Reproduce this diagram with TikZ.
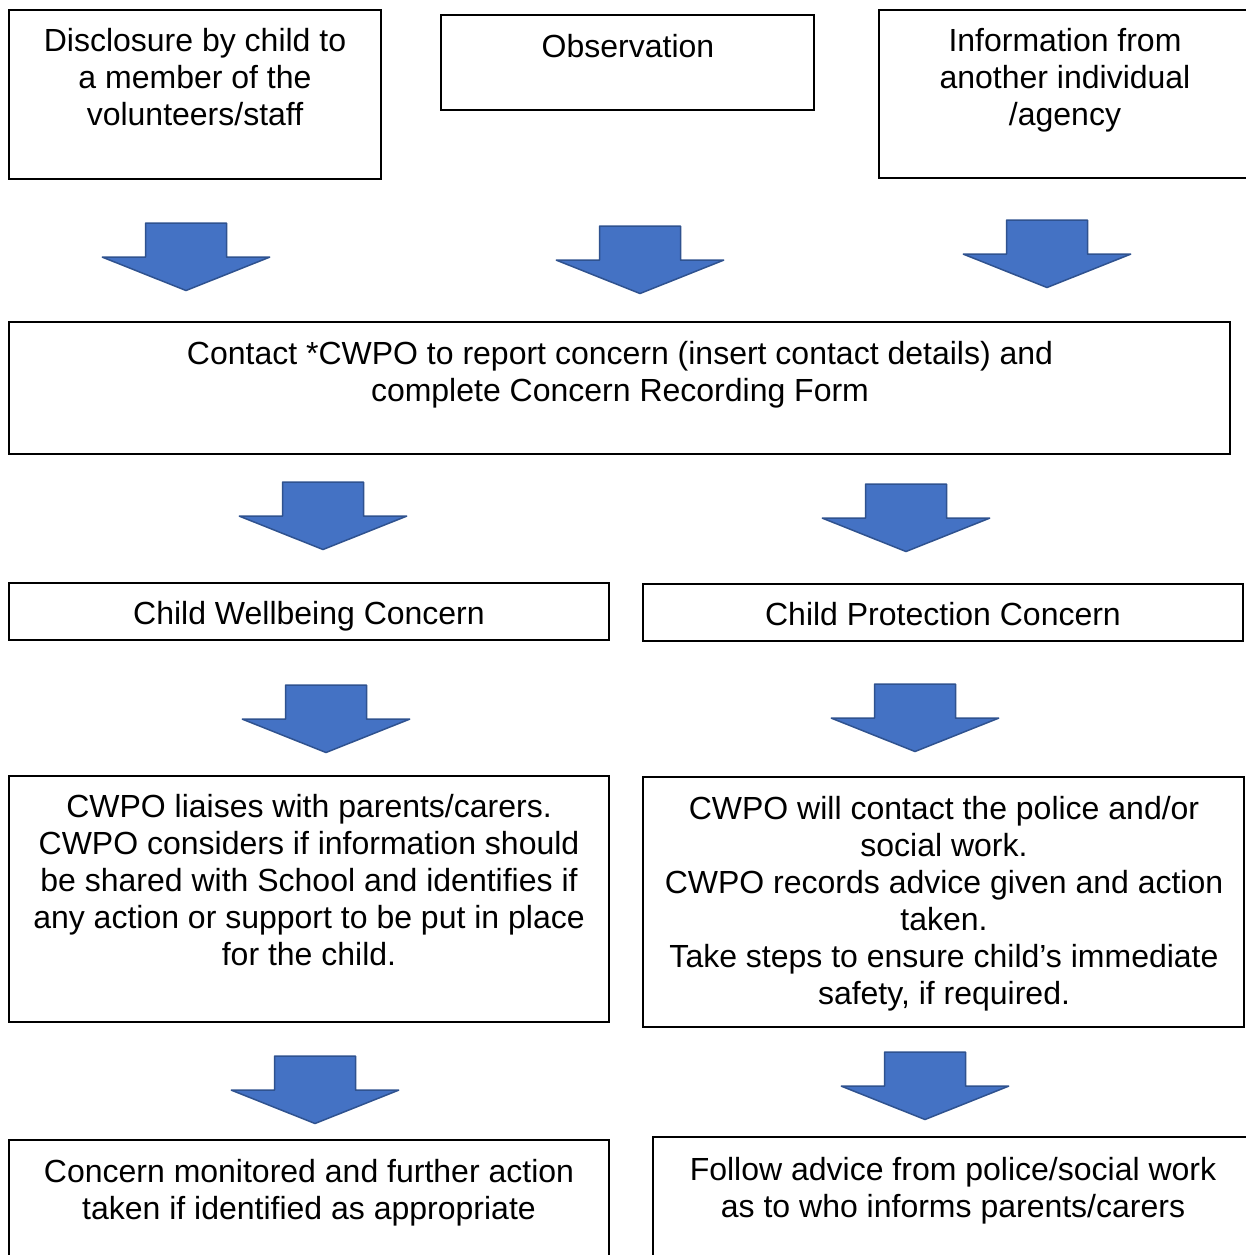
\documentclass[tikz,border=0pt]{standalone}
\usepackage{fontspec}
\setmainfont{Liberation Sans}
\definecolor{arrowfill}{HTML}{4472C4}
\definecolor{arrowedge}{HTML}{2F528F}
\begin{document}
\begin{tikzpicture}[x=0.5pt,y=-0.5pt,
  box/.style={draw=black,line width=0.75pt,inner sep=0pt},
  txt/.style={anchor=north,inner sep=0pt,align=center,font=\fontsize{16pt}{18.5pt}\selectfont},
  downarrow/.pic={\fill[arrowfill,draw=arrowedge,line width=0.75pt,line join=bevel]
     (-40.5,0) -- (40.5,0) -- (40.5,34) -- (84,34) -- (0,67.5) -- (-84,34) -- (-40.5,34) -- cycle;}]
\useasboundingbox (0,0) rectangle (1246,1255);
\clip (0,0) rectangle (1246,1255);
\fill[white] (0,0) rectangle (1246,1255);
% boxes
\path[box] (9,10) rectangle (381,179) node[pos=0.5,draw=none] (b1) {};
\path[box] (441,15) rectangle (814,110) node[pos=0.5,draw=none] (b2) {};
\path[box] (879,10) rectangle (1252,178) node[pos=0.5,draw=none] (b3) {};
\path[box] (9,322) rectangle (1230,454) node[pos=0.5,draw=none] (b4) {};
\path[box] (9,583) rectangle (609,640) node[pos=0.5,draw=none] (b5) {};
\path[box] (643,584) rectangle (1243,641) node[pos=0.5,draw=none] (b6) {};
\path[box] (9,776) rectangle (609,1022) node[pos=0.5,draw=none] (b7) {};
\path[box] (643,777) rectangle (1244,1027) node[pos=0.5,draw=none] (b8) {};
\path[box] (9,1140) rectangle (609,1262) node[pos=0.5,draw=none] (b9) {};
\path[box] (653,1137) rectangle (1256,1262) node[pos=0.5,draw=none] (b10) {};
% texts
\node[txt] (t1) at (195,25) {\strut Disclosure by child to\\a member of the\\volunteers/staff};
\node[txt] (t2) at (628,31) {\strut Observation};
\node[txt] (t3) at (1065,25) {\strut Information from\\another individual\\/agency};
\node[txt] (t4) at (620,338) {\strut Contact *CWPO to report concern (insert contact details) and\\complete Concern Recording Form};
\node[txt] (t5) at (309,598) {\strut Child Wellbeing Concern};
\node[txt] (t6) at (943,599) {\strut Child Protection Concern};
\node[txt] (t7) at (309,791) {\strut CWPO liaises with parents/carers.\\CWPO considers if information should\\be shared with School and identifies if\\any action or support to be put in place\\for the child.};
\node[txt] (t8) at (944,793) {\strut CWPO will contact the police and/or\\social work.\\CWPO records advice given and action\\taken.\\Take steps to ensure child’s immediate\\safety, if required.};
\node[txt] (t9) at (309,1156) {\strut Concern monitored and further action\\taken if identified as appropriate};
\node[txt] (t10) at (953,1154) {\strut Follow advice from police/social work\\as to who informs parents/carers};
% block arrows
\pic at (186,223) {downarrow};
\pic at (640,226) {downarrow};
\pic at (1047,220) {downarrow};
\pic at (323,482) {downarrow};
\pic at (906,484) {downarrow};
\pic at (326,685) {downarrow};
\pic at (915,684) {downarrow};
\pic at (315,1056) {downarrow};
\pic at (925,1052) {downarrow};
\end{tikzpicture}
\end{document}
